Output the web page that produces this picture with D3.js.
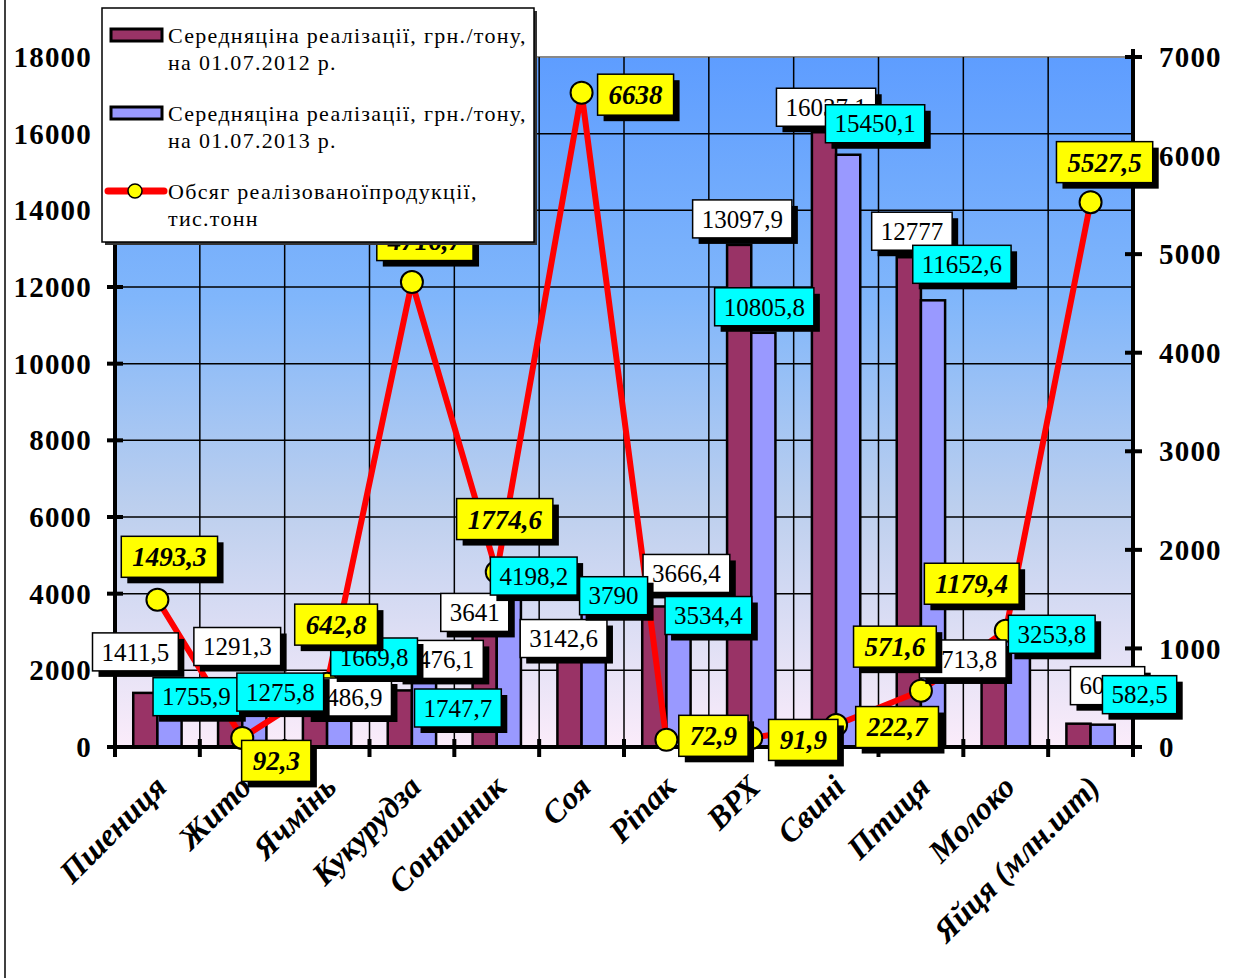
<!DOCTYPE html>
<html>
<head>
<meta charset="utf-8">
<script src="https://cdn.jsdelivr.net/npm/d3@7"></script>
<style>
  body { margin: 0; background: #fff; }
  text { font-family: "Liberation Serif", "Times New Roman", serif; }
</style>
</head>
<body>
<script>
const categories = ['Пшениця', 'Жито', 'Ячмінь', 'Кукурудза', 'Соняшник', 'Соя', 'Ріпак', 'ВРХ', 'Свині', 'Птиця', 'Молоко', 'Яйця (млн.шт)']
const price2012 = [1411.5, 1291.3, 1486.9, 1476.1, 3641, 3142.6, 3666.4, 13097.9, 16037.1, 12777, 2713.8, 608.3]
const price2013 = [1755.9, 1275.8, 1669.8, 1747.7, 4198.2, 3790, 3534.4, 10805.8, 15450.1, 11652.6, 3253.8, 582.5]
const volume = [1493.3, 92.3, 642.8, 4716.7, 1774.6, 6638, 72.9, 91.9, 222.7, 571.6, 1179.4, 5527.5]
const leftTicks = [0, 2000, 4000, 6000, 8000, 10000, 12000, 14000, 16000, 18000]
const rightTicks = [0, 1000, 2000, 3000, 4000, 5000, 6000, 7000]

// hand-placed label offsets (from category centre / value point), like the original
const off2012 = [[-22, -41], [-5, -51], [21, 7], [28, -31], [-22, 5], [-18, 12], [20, -33], [-9, -26], [-10, -25], [-9, -26], [-43, 16], [17, -38]]
const off2013 = [[39, 17], [38, -6], [47, -26], [46, 28], [37, -10], [32, -6], [42, 4], [13, -26], [39, -31], [41, -36], [46, 12], [49, -30]]
const offVol = [[12, -43], [34, 23], [9, -59], [13, -42], [8, -53], [54, 2], [47, -4], [52, 2], [61, 2], [-26, -44], [-34, -47], [14, -40]]

const fmt = v => String(v).replace('.', ',')

const W = 1252, H = 978
const L = 115, R = 1133, T = 57, B = 747

const svg = d3.select('body').append('svg').attr('width', W).attr('height', H)

const defs = svg.append('defs')
const grad = defs.append('linearGradient').attr('id', 'bg').attr('x1', 0).attr('y1', 0).attr('x2', 0).attr('y2', 1)
grad.append('stop').attr('offset', '0%').attr('stop-color', '#5e9dff')
grad.append('stop').attr('offset', '35%').attr('stop-color', '#80b6fb')
grad.append('stop').attr('offset', '65%').attr('stop-color', '#bccfee')
grad.append('stop').attr('offset', '100%').attr('stop-color', '#fbecfa')

const x = d3.scaleBand().domain(categories).range([L, R])
const bw = x.bandwidth()
const xs = d3.scaleBand().domain([0, 1]).range([bw * 0.215, bw * 0.785])
const yL = d3.scaleLinear().domain([0, 18000]).range([B, T])
const yR = d3.scaleLinear().domain([0, 7000]).range([B, T])
const cx = c => x(c) + bw / 2

// chart area left border
svg.append('line').attr('x1', 5).attr('x2', 5).attr('y1', 0).attr('y2', H).attr('stroke', '#000').attr('stroke-width', 1.5)

// plot background
svg.append('rect').attr('x', L).attr('y', T).attr('width', R - L).attr('height', B - T).attr('fill', 'url(#bg)')
svg.append('line').attr('x1', L).attr('x2', R).attr('y1', T).attr('y2', T).attr('stroke', '#888').attr('stroke-width', 2)

// grid
svg.append('g').selectAll('line').data(leftTicks.slice(1, -1)).join('line')
  .attr('x1', L).attr('x2', R).attr('y1', d => yL(d)).attr('y2', d => yL(d))
  .attr('stroke', '#000').attr('stroke-width', 1.5)
svg.append('g').selectAll('line').data(categories.slice(1)).join('line')
  .attr('x1', d => x(d)).attr('x2', d => x(d)).attr('y1', T).attr('y2', B)
  .attr('stroke', '#000').attr('stroke-width', 1.5)

// bars
const series = [price2012, price2013]
const barColors = ['#993366', '#9999ff']
series.forEach((vals, s) => {
  svg.append('g').selectAll('rect').data(categories).join('rect')
    .attr('x', d => x(d) + xs(s))
    .attr('y', (d, i) => yL(vals[i]))
    .attr('width', xs.bandwidth())
    .attr('height', (d, i) => B - yL(vals[i]))
    .attr('fill', barColors[s])
    .attr('stroke', '#000').attr('stroke-width', 2.5)
})

// axes
const axisG = svg.append('g')
axisG.append('line').attr('x1', L).attr('x2', L).attr('y1', T - 8).attr('y2', B + 2).attr('stroke', '#000').attr('stroke-width', 4)
axisG.append('line').attr('x1', R).attr('x2', R).attr('y1', T - 8).attr('y2', B + 2).attr('stroke', '#000').attr('stroke-width', 4)
axisG.append('line').attr('x1', L - 2).attr('x2', R + 2).attr('y1', B).attr('y2', B).attr('stroke', '#000').attr('stroke-width', 4)

axisG.selectAll('.tl').data(leftTicks).join('line').attr('class', 'tl')
  .attr('x1', L - 8).attr('x2', L + 8).attr('y1', d => yL(d)).attr('y2', d => yL(d))
  .attr('stroke', '#000').attr('stroke-width', 4)
axisG.selectAll('.tr').data(rightTicks).join('line').attr('class', 'tr')
  .attr('x1', R - 8).attr('x2', R + 9).attr('y1', d => yR(d)).attr('y2', d => yR(d))
  .attr('stroke', '#000').attr('stroke-width', 4)
axisG.selectAll('.tb').data(categories.concat(['end'])).join('line').attr('class', 'tb')
  .attr('x1', (d, i) => L + i * bw).attr('x2', (d, i) => L + i * bw)
  .attr('y1', B - 8).attr('y2', B + 10)
  .attr('stroke', '#000').attr('stroke-width', 4)

axisG.selectAll('.ll').data(leftTicks).join('text').attr('class', 'll')
  .attr('x', 92).attr('y', d => yL(d)).attr('dy', '0.35em')
  .attr('text-anchor', 'end').attr('font-size', 29).attr('font-weight', 'bold')
  .attr('letter-spacing', 1.2)
  .text(d => d)
axisG.selectAll('.rl').data(rightTicks).join('text').attr('class', 'rl')
  .attr('x', 1159).attr('y', d => yR(d)).attr('dy', '0.35em')
  .attr('text-anchor', 'start').attr('font-size', 29).attr('font-weight', 'bold')
  .attr('letter-spacing', 1.2)
  .text(d => d)

// category labels
svg.append('g').selectAll('text').data(categories).join('text')
  .attr('transform', d => `translate(${cx(d) + 11},${B + 42}) rotate(-45)`)
  .attr('text-anchor', 'end')
  .attr('font-size', 32).attr('font-weight', 'bold').attr('font-style', 'italic')
  .text(d => d)

// volume line
const line = d3.line().x((d, i) => cx(categories[i])).y(d => yR(d))
svg.append('path').datum(volume).attr('d', line)
  .attr('fill', 'none').attr('stroke', '#ff0000').attr('stroke-width', 6).attr('stroke-linejoin', 'round')
svg.append('g').selectAll('circle').data(volume).join('circle')
  .attr('cx', (d, i) => cx(categories[i])).attr('cy', d => yR(d)).attr('r', 11)
  .attr('fill', '#ffff00').attr('stroke', '#000').attr('stroke-width', 2)

// data labels
function labels (vals, yScale, offs, fill, bold) {
  const g = svg.append('g')
  vals.forEach((v, i) => {
    const px = cx(categories[i]) + offs[i][0]
    const py = yScale(v) + offs[i][1]
    const lg = g.append('g')
    const shadow = lg.append('rect')
    const box = lg.append('rect')
    const t = lg.append('text')
      .attr('x', px).attr('y', py).attr('dy', '0.35em')
      .attr('text-anchor', 'middle')
      .attr('font-size', bold ? 27 : 25)
      .attr('font-weight', bold ? 'bold' : 'normal')
      .attr('font-style', bold ? 'italic' : 'normal')
      .text(fmt(v))
    const w = t.node().getComputedTextLength() + (bold ? 22 : 18)
    const h = bold ? 41 : 38
    shadow.attr('x', px - w / 2 + 6).attr('y', py - h / 2 + 6).attr('width', w).attr('height', h).attr('fill', '#000')
    box.attr('x', px - w / 2).attr('y', py - h / 2).attr('width', w).attr('height', h)
      .attr('fill', fill).attr('stroke', '#000').attr('stroke-width', 1.5)
  })
}
labels(price2012, yL, off2012, '#ffffff', false)
labels(price2013, yL, off2013, '#00ffff', false)
labels(volume, yR, offVol, '#ffff00', true)

// legend
const lg = svg.append('g')
lg.append('rect').attr('x', 105).attr('y', 11).attr('width', 432).attr('height', 234).attr('fill', '#333')
lg.append('rect').attr('x', 102).attr('y', 8).attr('width', 432).attr('height', 234)
  .attr('fill', '#fff').attr('stroke', '#000').attr('stroke-width', 1.5)
const legendItems = [
  { lines: ['Середняціна реалізації, грн./тону,', 'на 01.07.2012 р.'], y: 35, type: 'bar', color: barColors[0] },
  { lines: ['Середняціна реалізації, грн./тону,', 'на 01.07.2013 р.'], y: 113, type: 'bar', color: barColors[1] },
  { lines: ['Обсяг реалізованоїпродукції,', 'тис.тонн'], y: 191, type: 'line' }
]
legendItems.forEach(it => {
  if (it.type === 'bar') {
    lg.append('rect').attr('x', 111).attr('y', it.y - 6).attr('width', 51).attr('height', 12)
      .attr('fill', it.color).attr('stroke', '#000').attr('stroke-width', 3)
  } else {
    lg.append('line').attr('x1', 108).attr('x2', 164).attr('y1', it.y).attr('y2', it.y)
      .attr('stroke', '#ff0000').attr('stroke-width', 7).attr('stroke-linecap', 'round')
    lg.append('circle').attr('cx', 135).attr('cy', it.y).attr('r', 7)
      .attr('fill', '#ffff00').attr('stroke', '#000').attr('stroke-width', 1.5)
  }
  it.lines.forEach((s, k) => {
    lg.append('text').attr('x', 168).attr('y', it.y + 8 + k * 27)
      .attr('font-size', 22).attr('letter-spacing', 1.3).text(s)
  })
})
</script>
</body>
</html>
